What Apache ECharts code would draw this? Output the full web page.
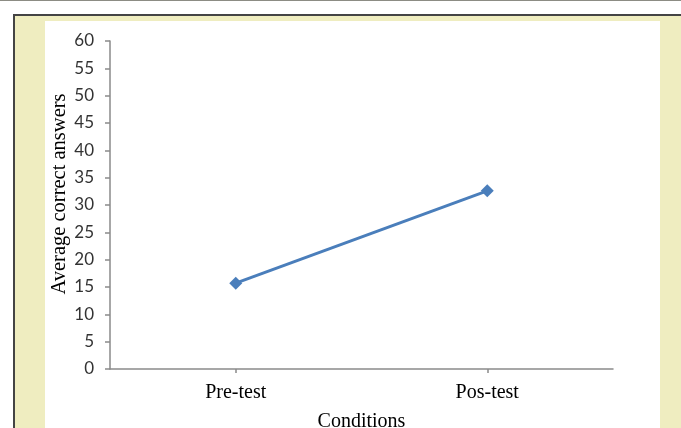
<!DOCTYPE html>
<html>
<head>
<meta charset="utf-8">
<script src="https://cdn.jsdelivr.net/npm/echarts@6/dist/echarts.min.js"></script>
<style>
  html, body { margin: 0; padding: 0; background: #ffffff; }
  #stage { position: relative; width: 681px; height: 428px; overflow: hidden; }
  .topRule { position: absolute; left: 0; top: 0; width: 681px; height: 1px; background: #8c8c84; }
  .frame { position: absolute; left: 13px; top: 14px; right: 0; bottom: 0;
           border-top: 2px solid #444444; border-left: 2px solid #444444;
           background: #efedc0; }
  .panel { position: absolute; left: 45px; top: 21px; width: 615px; bottom: 0; background: #ffffff; }
  #chart { position: absolute; left: 0; top: 0; width: 681px; height: 428px; }
</style>
</head>
<body>
<div id="stage">
  <div class="topRule"></div>
  <div class="frame"></div>
  <div class="panel"></div>
  <div id="chart"></div>
</div>
<script>
// Test conditions and mean number of correct answers
const conditions = ['Pre-test', 'Pos-test'];
const averageCorrect = [15.7, 32.6];

// Y axis range and step
const yMin = 0;
const yMax = 60;
const yStep = 5;

const axisGray = '#8a8a8a';

const chart = echarts.init(document.getElementById('chart'), null, { renderer: 'canvas' });
chart.setOption({
  backgroundColor: 'transparent',
  animation: false,
  grid: { left: 110, right: 68, top: 41, bottom: 59, containLabel: false, outerBoundsMode: 'none' },
  xAxis: {
    type: 'category',
    data: conditions,
    boundaryGap: true,
    name: 'Conditions',
    nameLocation: 'middle',
    nameGap: 43,
    nameMoveOverlap: false,
    nameTextStyle: { fontFamily: 'Liberation Serif', fontSize: 20, color: '#000000' },
    axisLine: { lineStyle: { color: axisGray, width: 1.5 } },
    axisTick: { show: true, alignWithLabel: true, length: 4, lineStyle: { color: axisGray, width: 1.5 } },
    axisLabel: { margin: 14, fontFamily: 'Liberation Serif', fontSize: 20, color: '#000000' },
    splitLine: { show: false }
  },
  yAxis: {
    type: 'value',
    min: yMin,
    max: yMax,
    interval: yStep,
    name: 'Average correct answers',
    nameLocation: 'middle',
    nameGap: 40,
    nameRotate: 90,
    nameMoveOverlap: false,
    nameTextStyle: { fontFamily: 'Liberation Serif', fontSize: 20.5, color: '#000000', padding: [0, 0, 0, 22] },
    axisLine: { show: true, lineStyle: { color: axisGray, width: 1.5 } },
    axisTick: { show: true, length: 5, lineStyle: { color: axisGray, width: 1.5 } },
    axisLabel: { margin: 16, fontFamily: 'Lato', fontSize: 17, color: '#333333' },
    splitLine: { show: false }
  },
  series: [{
    type: 'line',
    data: averageCorrect,
    symbol: 'diamond',
    symbolSize: 13,
    lineStyle: { color: '#4a7ebb', width: 3 },
    itemStyle: { color: '#4a7ebb' }
  }]
});
</script>
</body>
</html>
